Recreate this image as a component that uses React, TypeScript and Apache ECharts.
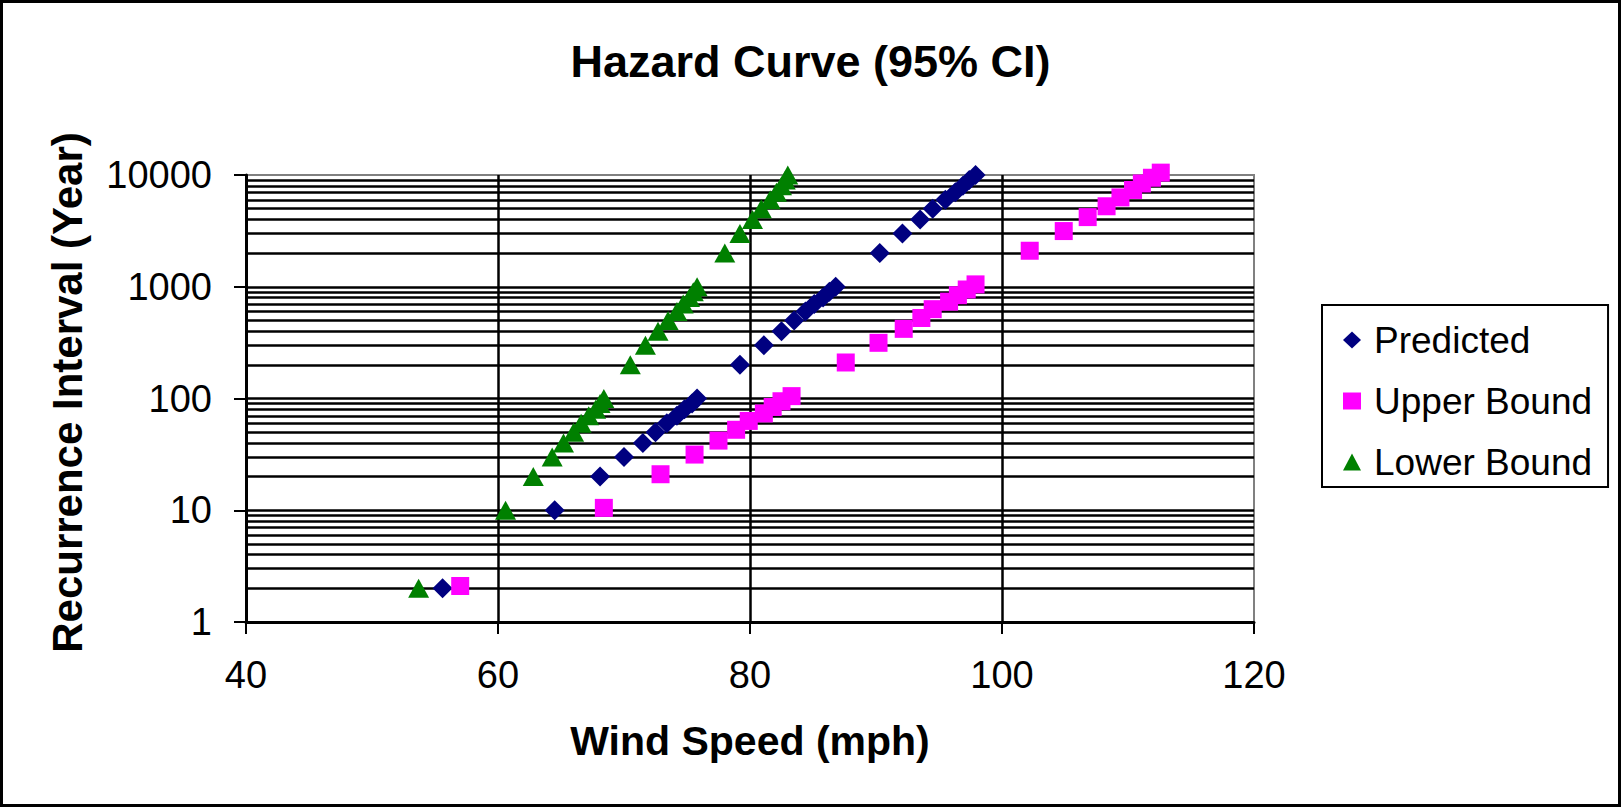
import React, { useEffect, useRef } from "react";
import * as echarts from "echarts";

// Return periods (years) at which the hazard curve is evaluated
const returnPeriods = [
  2, 10, 20, 30, 40, 50, 60, 70, 80, 90, 100, 200, 300, 400, 500, 600, 700, 800,
  900, 1000, 2000, 3000, 4000, 5000, 6000, 7000, 8000, 9000, 10000,
];
// Upper-bound points sit slightly above the nominal return periods
const upperReturnPeriods = [
  2.1, 10.5, 21, 31.5, 42, 52.5, 63, 73.5, 84, 94.5, 105, 210, 315, 420, 525,
  630, 735, 840, 945, 1050, 2100, 3150, 4200, 5250, 6300, 7350, 8400, 9450, 10500,
];

// Wind speeds (mph)
const predictedSpeed = [
  55.6, 64.5, 68.1, 70.0, 71.5, 72.5, 73.4, 74.2, 74.8, 75.4, 75.8, 79.2, 81.1,
  82.5, 83.5, 84.4, 85.1, 85.8, 86.3, 86.8, 90.3, 92.1, 93.5, 94.5, 95.5, 96.3,
  96.9, 97.4, 97.9,
];
const upperSpeed = [
  57.0, 68.4, 72.9, 75.6, 77.5, 78.9, 79.9, 81.1, 81.8, 82.5, 83.3, 87.6, 90.2,
  92.2, 93.6, 94.5, 95.8, 96.5, 97.2, 97.9, 102.2, 104.9, 106.8, 108.3, 109.4,
  110.4, 111.1, 111.9, 112.6,
];
const lowerSpeed = [
  53.7, 60.6, 62.8, 64.3, 65.2, 66.0, 66.6, 67.2, 67.75, 68.1, 68.4, 70.5, 71.7,
  72.7, 73.5, 74.2, 74.7, 75.2, 75.5, 75.8, 78.0, 79.2, 80.2, 80.9, 81.6, 82.1,
  82.5, 82.8, 83.0,
];

// Axis ranges and grid lines
const xMin = 40;
const xMax = 120;
const xStep = 20;
const yMin = 1;
const yMax = 10000;
const yDecades = [1, 10, 100, 1000];
const minorMultipliers = [2, 3, 4, 5, 6, 7, 8, 9];

const seriesNames = ["Predicted", "Upper Bound", "Lower Bound"];

const FONT = "'Liberation Sans', Arial, Helvetica, sans-serif";
const GRID_W = 2.5;

function pairs(xs: number[], ys: number[]) {
  return xs.map((x, i) => [x, ys[i]]);
}

export default function App() {
  const ref = useRef<HTMLDivElement>(null);

  useEffect(() => {
    if (!ref.current) return;
    const chart = echarts.init(ref.current, null, { renderer: "svg" });

    const minorLines: { yAxis: number }[] = [];
    yDecades.forEach((d) =>
      minorMultipliers.forEach((m) => minorLines.push({ yAxis: d * m }))
    );

    chart.setOption({
      animation: false,
      backgroundColor: "#ffffff",
      title: {
        text: "Hazard Curve (95% CI)",
        left: "center",
        top: 39,
        padding: 0,
        textStyle: {
          fontFamily: FONT,
          fontSize: 45,
          fontWeight: "bold",
          color: "#000",
        },
      },
      legend: {
        data: seriesNames,
        orient: "vertical",
        left: 1322,
        top: 305,
        padding: [15, 16, 5, 21],
        itemGap: 21,
        itemWidth: 18,
        itemHeight: 17,
        borderColor: "#000",
        borderWidth: 2,
        backgroundColor: "#fff",
        textStyle: {
          fontFamily: FONT,
          fontSize: 37,
          color: "#000",
          lineHeight: 40,
          padding: [0, 0, 0, 8],
        },
      },
      grid: {
        left: 246,
        top: 175,
        width: 1008,
        height: 447,
        show: true,
        borderColor: "#808080",
        borderWidth: 2,
        backgroundColor: "transparent",
      },
      xAxis: {
        type: "value",
        min: xMin,
        max: xMax,
        interval: xStep,
        name: "Wind Speed (mph)",
        nameLocation: "middle",
        nameGap: 98,
        nameTextStyle: {
          fontFamily: FONT,
          fontSize: 41,
          fontWeight: "bold",
          color: "#000",
        },
        axisLine: { show: true, onZero: false, lineStyle: { color: "#000", width: 3 } },
        axisTick: { show: true, inside: false, length: 12, lineStyle: { color: "#000", width: 2 } },
        axisLabel: {
          margin: 34,
          fontFamily: FONT,
          fontSize: 38,
          color: "#000",
        },
        splitLine: {
          show: true,
          showMinLine: false,
          showMaxLine: false,
          lineStyle: { color: "#000", width: GRID_W },
        },
      },
      yAxis: {
        type: "log",
        logBase: 10,
        min: yMin,
        max: yMax,
        name: "Recurrence Interval (Year)",
        nameLocation: "middle",
        nameGap: 158,
        nameTextStyle: {
          fontFamily: FONT,
          fontSize: 42,
          fontWeight: "bold",
          color: "#000",
          padding: [0, 0, 0, 12],
        },
        axisLine: { show: true, onZero: false, lineStyle: { color: "#000", width: 3 } },
        axisTick: { show: true, inside: false, length: 12, lineStyle: { color: "#000", width: 2 } },
        axisLabel: {
          margin: 34,
          fontFamily: FONT,
          fontSize: 38,
          color: "#000",
          formatter: (v: number) => String(Math.round(v)),
        },
        splitLine: {
          show: true,
          showMinLine: false,
          showMaxLine: false,
          lineStyle: { color: "#000", width: GRID_W },
        },
      },
      graphic: [
        {
          type: "rect",
          shape: { x: 1.5, y: 1.5, width: 1618, height: 804 },
          style: { fill: "none", stroke: "#000", lineWidth: 3 },
          silent: true,
          z: 100,
        },
      ],
      series: [
        {
          name: "minor-grid",
          type: "scatter",
          data: [],
          z: 1,
          silent: true,
          markLine: {
            silent: true,
            symbol: ["none", "none"],
            label: { show: false },
            lineStyle: { color: "#000", width: GRID_W, type: "solid" },
            emphasis: { disabled: true },
            data: minorLines,
          },
        },
        {
          name: "Predicted",
          type: "scatter",
          symbol: "diamond",
          symbolSize: 20,
          clip: false,
          z: 10,
          itemStyle: { color: "#000080", opacity: 1 },
          data: pairs(predictedSpeed, returnPeriods),
        },
        {
          name: "Upper Bound",
          type: "scatter",
          symbol: "rect",
          symbolSize: 18,
          clip: false,
          z: 10,
          itemStyle: { color: "#FF00FF", opacity: 1 },
          data: pairs(upperSpeed, upperReturnPeriods),
        },
        {
          name: "Lower Bound",
          type: "scatter",
          symbol: "triangle",
          symbolSize: [21, 19],
          clip: false,
          z: 10,
          itemStyle: { color: "#008000", opacity: 1 },
          data: pairs(lowerSpeed, returnPeriods),
        },
      ],
    });

    return () => chart.dispose();
  }, []);

  return (
    <div
      ref={ref}
      style={{
        position: "fixed",
        left: 0,
        top: 0,
        width: 1621,
        height: 807,
        background: "#fff",
      }}
    />
  );
}
